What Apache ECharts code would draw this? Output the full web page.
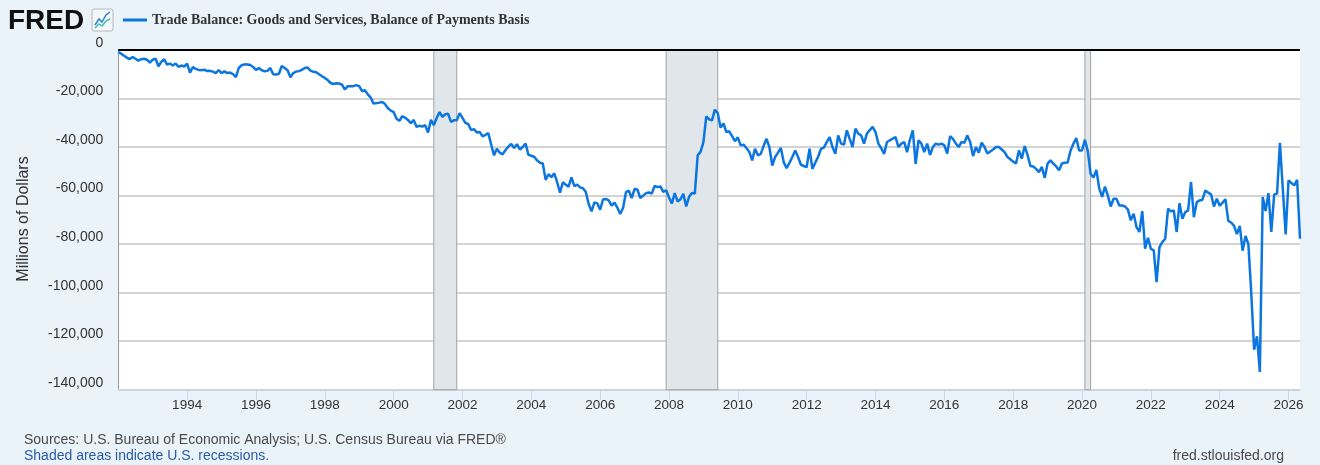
<!DOCTYPE html>
<html>
<head>
<meta charset="utf-8">
<script src="https://cdn.jsdelivr.net/npm/echarts@6/dist/echarts.min.js"></script>
<style>
  html, body { margin: 0; padding: 0; background: #eaf2fa; }
  #chart { width: 1320px; height: 465px; }
</style>
</head>
<body>
<div id="chart"></div>
<script>
// Trade balance, goods and services, BOP basis (millions of dollars), monthly from Jan 1992
var firstYear = 1992;
var seriesName = "Trade Balance: Goods and Services, Balance of Payments Basis";

var balance1992to1999 = [
  -900, -1500, -2400, -3200, -3700, -2900, -3600, -4400, -3800, -3600, -4000, -5200,
  -4000, -3600, -6700, -4900, -3800, -6000, -5600, -6400, -5600, -6900, -6400, -6800,
  -5600, -9300, -7000, -7800, -8200, -8300, -8100, -8700, -8600, -8900, -9500, -8300,
  -9500, -8800, -9500, -9300, -9900, -11200, -7400, -6300, -5900, -6000, -6200, -7000,
  -8200, -7400, -8300, -8800, -8600, -7400, -10000, -10100, -9800, -6600, -7400, -8300,
  -11200, -9500, -8900, -8700, -8200, -7400, -7200, -8500, -9000, -9200, -10000, -10800,
  -11500, -12400, -13600, -14000, -13700, -13800, -14300, -16300, -14900, -14900, -14900, -14500,
  -14900, -17000, -16600, -18300, -19600, -22100, -21900, -21700, -21400, -22300, -24000, -25000
];
var balance2000to2009 = [
  -25600, -28300, -29200, -27300, -27900, -28800, -30200, -28800, -31700, -31200, -31600, -31000,
  -34000, -28800, -31000, -28000, -25600, -27500, -26500, -26300, -29600, -29000, -29000, -26000,
  -28000, -30000, -30500, -33000, -32600, -34000, -33800, -35600, -35000, -34200, -39000, -43400,
  -40700, -42300, -43000, -41200, -39800, -38700, -40400, -38800, -41000, -40000, -38600, -43200,
  -43600, -44000, -45500, -46500, -46800, -53500, -51200, -52400, -50800, -54500, -58800, -54500,
  -55500, -56300, -52500, -56100, -55500, -56600, -57000, -58500, -63500, -66500, -62800, -63200,
  -65800, -61600, -61400, -62000, -64100, -62900, -65000, -67600, -65000, -58600, -58000, -61000,
  -57200, -57600, -61000, -60000, -59000, -58700, -59200, -56000, -56500, -56200, -58500, -57800,
  -60800, -63200, -59000, -62400, -61500, -59300, -64500, -60500, -58900, -59200, -43400, -42000,
  -38000, -27400, -28600, -29000, -24600, -26000, -32000, -30300, -33800, -33500, -35500, -37600
];
var balance2010to2019 = [
  -36000, -39300, -39000, -40400, -42000, -45500, -40700, -43400, -42800, -39500, -36600, -40000,
  -47600, -44100, -42300, -40400, -46200, -48700, -46500, -44100, -41400, -44100, -47300, -47800,
  -48300, -40700, -49000, -46500, -44000, -40700, -40200, -38000, -35900, -40000, -42800, -35200,
  -38600, -39000, -33100, -36600, -40000, -32400, -34500, -35200, -38600, -34500, -33000, -31700,
  -33800, -38600, -40500, -42800, -37900, -37200, -36500, -35900, -40000, -38600, -37900, -42100,
  -37000, -33100, -46900, -37200, -38600, -42100, -38600, -43300, -40000, -38600, -39000, -38600,
  -39300, -42700, -35500, -36600, -38500, -40000, -37900, -38200, -35200, -37900, -43700, -40000,
  -42300, -38200, -40000, -42700, -41800, -41000, -40000, -40000, -41000, -42100, -44100, -45000,
  -46000, -46800, -41400, -44800, -39600, -43200, -47800, -48000, -49000, -50300, -48200, -52700,
  -46800, -45500, -46800, -48000, -49600, -46800, -46500, -46400, -41400, -38600, -36300, -41400
];
var balance2020to2026 = [
  -41400, -37000, -41600, -51000, -52600, -49400, -57000, -60500, -56300, -60000, -64500, -61300,
  -61300, -64100, -64100, -64500, -65800, -70200, -67500, -73000, -75000, -66400, -81900, -77400,
  -81900, -82600, -95700, -81200, -79200, -77800, -65400, -66500, -66100, -75000, -63100, -69600,
  -66800, -66100, -54400, -68900, -62700, -62000, -61700, -57900, -58800, -59500, -64500, -61300,
  -64200, -62900, -61500, -70400, -71100, -72500, -75900, -72500, -82700, -76600, -80000, -100000,
  -123500, -118000, -132700, -60600, -66400, -59000, -75000, -59500, -59200, -38300, -57000, -76000,
  -53700, -54800, -55800, -53500, -77800
];

// recessions as [year, month] start / end
var recessionStarts = [[2001, 3], [2007, 12], [2020, 2]];
var recessionEnds = [[2001, 11], [2009, 6], [2020, 4]];

var xStep = 2;
var yMin = -140000, yMax = 0, yStep = 20000;

var allValues = balance1992to1999.concat(balance2000to2009, balance2010to2019, balance2020to2026);
var points = [];
for (var i = 0; i < allValues.length; i++) {
  points.push([firstYear + i / 12, allValues[i]]);
}
var lastX = firstYear + (allValues.length - 1) / 12;

function ym(p) { return p[0] + (p[1] - 1) / 12; }
var shading = [];
for (var r = 0; r < recessionStarts.length; r++) {
  shading.push([{ xAxis: ym(recessionStarts[r]) }, { xAxis: ym(recessionEnds[r]) }]);
}

var sans = "'Liberation Sans', Arial, Helvetica, sans-serif";
var chart = echarts.init(document.getElementById("chart"));
var option = {
  backgroundColor: "#eaf2fa",
  animation: false,
  grid: { left: 118.3, right: 20, top: 50, bottom: 75.3, show: true, backgroundColor: "#ffffff", borderWidth: 0 },
  legend: {
    left: 118, top: 8, data: [seriesName],
    icon: "rect", itemWidth: 24, itemHeight: 3, itemGap: 10,
    textStyle: { fontFamily: "'Liberation Serif', 'Times New Roman', serif", fontWeight: "bold", fontSize: 14, color: "#333" }
  },
  xAxis: {
    type: "value", position: "bottom", min: firstYear, max: lastX, interval: xStep,
    axisLine: { show: true, onZero: false, lineStyle: { color: "#ccd6eb", width: 1 } },
    axisTick: { show: true, inside: false, length: 10, lineStyle: { color: "#ccd6eb", width: 1 } },
    axisLabel: {
      inside: false, margin: 9, color: "#333", fontSize: 13.5, fontFamily: sans,
      showMinLabel: false, showMaxLabel: false,
      formatter: function (v) {
        return (Math.abs(v - Math.round(v)) < 1e-6 && v > firstYear) ? String(Math.round(v)) : "";
      }
    },
    splitLine: { show: false }
  },
  yAxis: {
    type: "value", min: yMin, max: yMax, interval: yStep,
    axisLine: { show: true, onZero: false, lineStyle: { color: "#9a9a9a", width: 1 } },
    axisTick: { show: false },
    axisLabel: {
      margin: 15, color: "#333", fontSize: 14, fontFamily: sans, verticalAlign: "bottom",
      formatter: function (v) { return v.toLocaleString("en-US"); }
    },
    splitLine: { show: true, lineStyle: { color: "#c6c6c6", width: 1.5 } }
  },
  series: [
    {
      name: "recessions", type: "line", data: [], z: 1, silent: true,
      markArea: {
        silent: true,
        itemStyle: { color: "#e1e6eb", borderColor: "#a3a3a3", borderWidth: 1 },
        data: shading
      }
    },
    {
      name: seriesName, type: "line", data: points, z: 3,
      showSymbol: false, symbol: "none",
      lineStyle: { color: "#0b76e0", width: 2.5 },
      itemStyle: { color: "#0b76e0" },
      markLine: {
        silent: true, symbol: "none", label: { show: false },
        lineStyle: { color: "#000", width: 2, type: "solid" },
        data: [{ yAxis: 0 }]
      }
    }
  ],
  graphic: [
    { type: "text", left: 8, top: 7, style: { text: "FRED", font: "bold 28px " + sans, fill: "#111" } },
    { type: "rect", shape: { x: 92, y: 9, width: 21, height: 22, r: 2 }, style: { fill: "#f4f7fa", stroke: "#b8b8b8", lineWidth: 1 } },
    { type: "polyline", shape: { points: [[95, 25], [99, 19], [102, 22], [106, 15], [110, 12]] }, style: { stroke: "#2f7fd8", lineWidth: 1.5, fill: null } },
    { type: "polyline", shape: { points: [[95, 28], [99, 24], [102, 26], [106, 21], [110, 19]] }, style: { stroke: "#3dbfa8", lineWidth: 1.5, fill: null } },
    {
      type: "text", x: 23.5, y: 219, rotation: Math.PI / 2,
      style: { text: "Millions of Dollars", font: "16px " + sans, fill: "#333", textAlign: "center", textVerticalAlign: "middle" }
    },
    { type: "text", left: 24, top: 433, style: { text: "Sources: U.S. Bureau of Economic Analysis; U.S. Census Bureau via FRED\u00ae", font: "14px " + sans, fill: "#4a4a4a" } },
    { type: "text", left: 24, top: 449, style: { text: "Shaded areas indicate U.S. recessions.", font: "14px " + sans, fill: "#2a5ba6" } },
    { type: "text", right: 36, top: 449, style: { text: "fred.stlouisfed.org", font: "14px " + sans, fill: "#4a4a4a" } }
  ]
};
chart.setOption(option);
</script>
</body>
</html>
